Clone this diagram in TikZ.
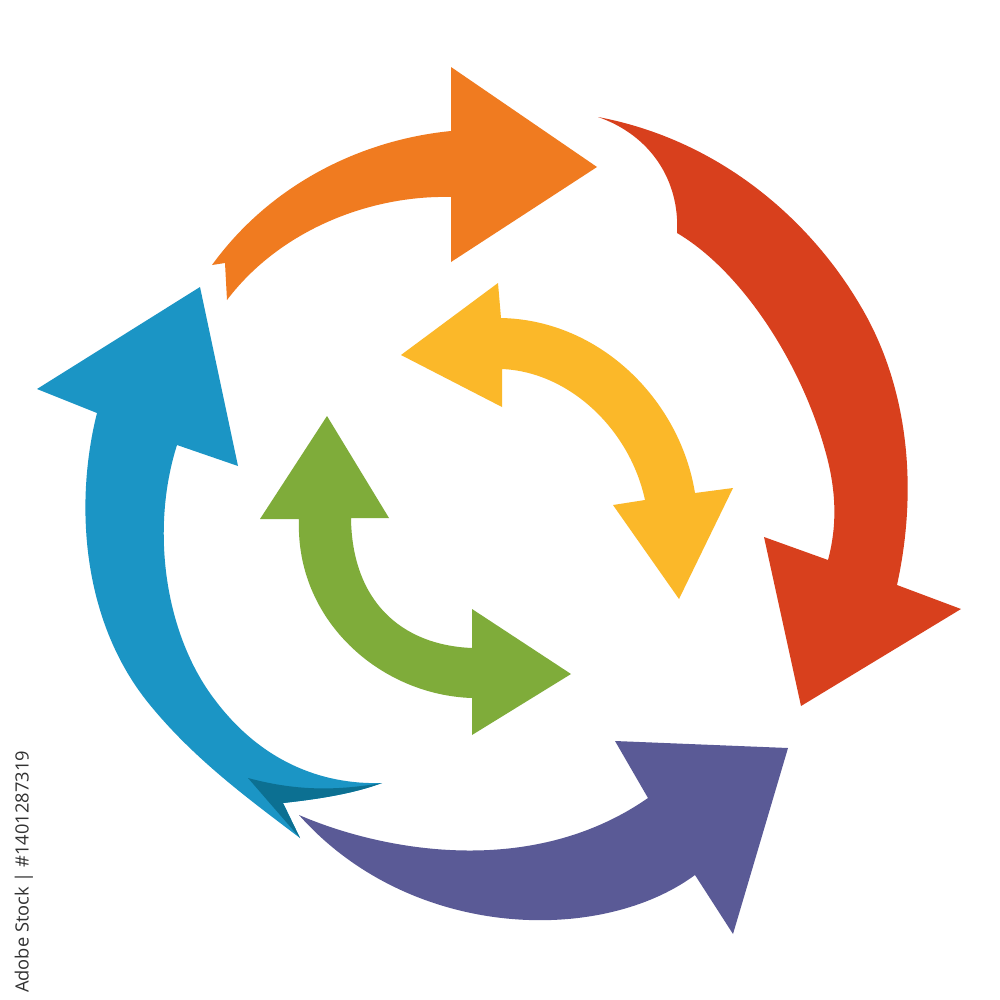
\documentclass[tikz,border=0pt]{standalone}
\usepackage{fontspec}
\newfontfamily\wmfont{Open Sans}
\definecolor{cOrange}{RGB}{240,123,32}
\definecolor{cRed}{RGB}{216,64,29}
\definecolor{cBlue}{RGB}{27,149,197}
\definecolor{cBlueDark}{RGB}{12,112,146}
\definecolor{cPurple}{RGB}{90,90,150}
\definecolor{cYellow}{RGB}{251,184,41}
\definecolor{cGreen}{RGB}{127,172,58}
\definecolor{cText}{RGB}{50,50,50}
\begin{document}
\begin{tikzpicture}[x=0.01cm,y=-0.01cm]
\useasboundingbox (0,0) rectangle (1000,1000);
\fill[white] (0,0) rectangle (1000,1000);
% orange
\fill[cOrange] (212,265) -- (225,263) -- (227,300)
  .. controls (280,230) and (370,195) .. (451,197)
  -- (451,262) -- (597,167) -- (451,67) -- (451,131)
  .. controls (360,140) and (270,185) .. (212,265) -- cycle;
% red
\fill[cRed] (598,117)
  .. controls (650,135) and (680,180) .. (677,233)
  .. controls (740,270) and (800,360) .. (825,450)
  .. controls (838,495) and (836,530) .. (828,560)
  -- (764,537) -- (801,706) -- (961,609) -- (897,585)
  .. controls (920,480) and (905,380) .. (860,305)
  .. controls (810,220) and (720,140) .. (598,117) -- cycle;
% blue
\fill[cBlue] (97,413)
  .. controls (75,500) and (80,620) .. (150,705)
  .. controls (195,760) and (250,800) .. (300,838)
  -- (283,803)
  .. controls (310,800) and (350,795) .. (382,783)
  .. controls (320,785) and (260,760) .. (215,700)
  .. controls (165,635) and (150,530) .. (177,445)
  -- (238,466) -- (200,287) -- (37,389) -- cycle;
\fill[cBlueDark] (248,778)
  .. controls (300,792) and (340,790) .. (382,783)
  .. controls (350,795) and (310,800) .. (283,803)
  -- (300,838) -- cycle;
% purple
\fill[cPurple] (299,815)
  .. controls (380,850) and (530,880) .. (648,798)
  -- (615,741) -- (788,748) -- (733,934) -- (695,875)
  .. controls (600,945) and (410,940) .. (299,815) -- cycle;
% yellow
\fill[cYellow] (401,355) -- (498,283) -- (501,318)
  .. controls (600,320) and (680,400) .. (695,493)
  -- (733,488) -- (679,599) -- (613,505) -- (645,500)
  .. controls (630,430) and (570,372) .. (502,369)
  -- (502,407) -- cycle;
% green
\fill[cGreen] (327,416) -- (389,518) -- (351,518)
  .. controls (352,600) and (400,645) .. (472,648)
  -- (472,609) -- (571,674) -- (472,735) -- (472,698)
  .. controls (380,695) and (295,620) .. (299,519)
  -- (260,519) -- cycle;
% stock id text
\node (stockid) [rotate=90, text=cText, inner sep=0pt, font=\wmfont\fontsize{5.2pt}{6pt}\selectfont]
  at (24,872) {Adobe Stock | \#1401287319};
\end{tikzpicture}
\end{document}
